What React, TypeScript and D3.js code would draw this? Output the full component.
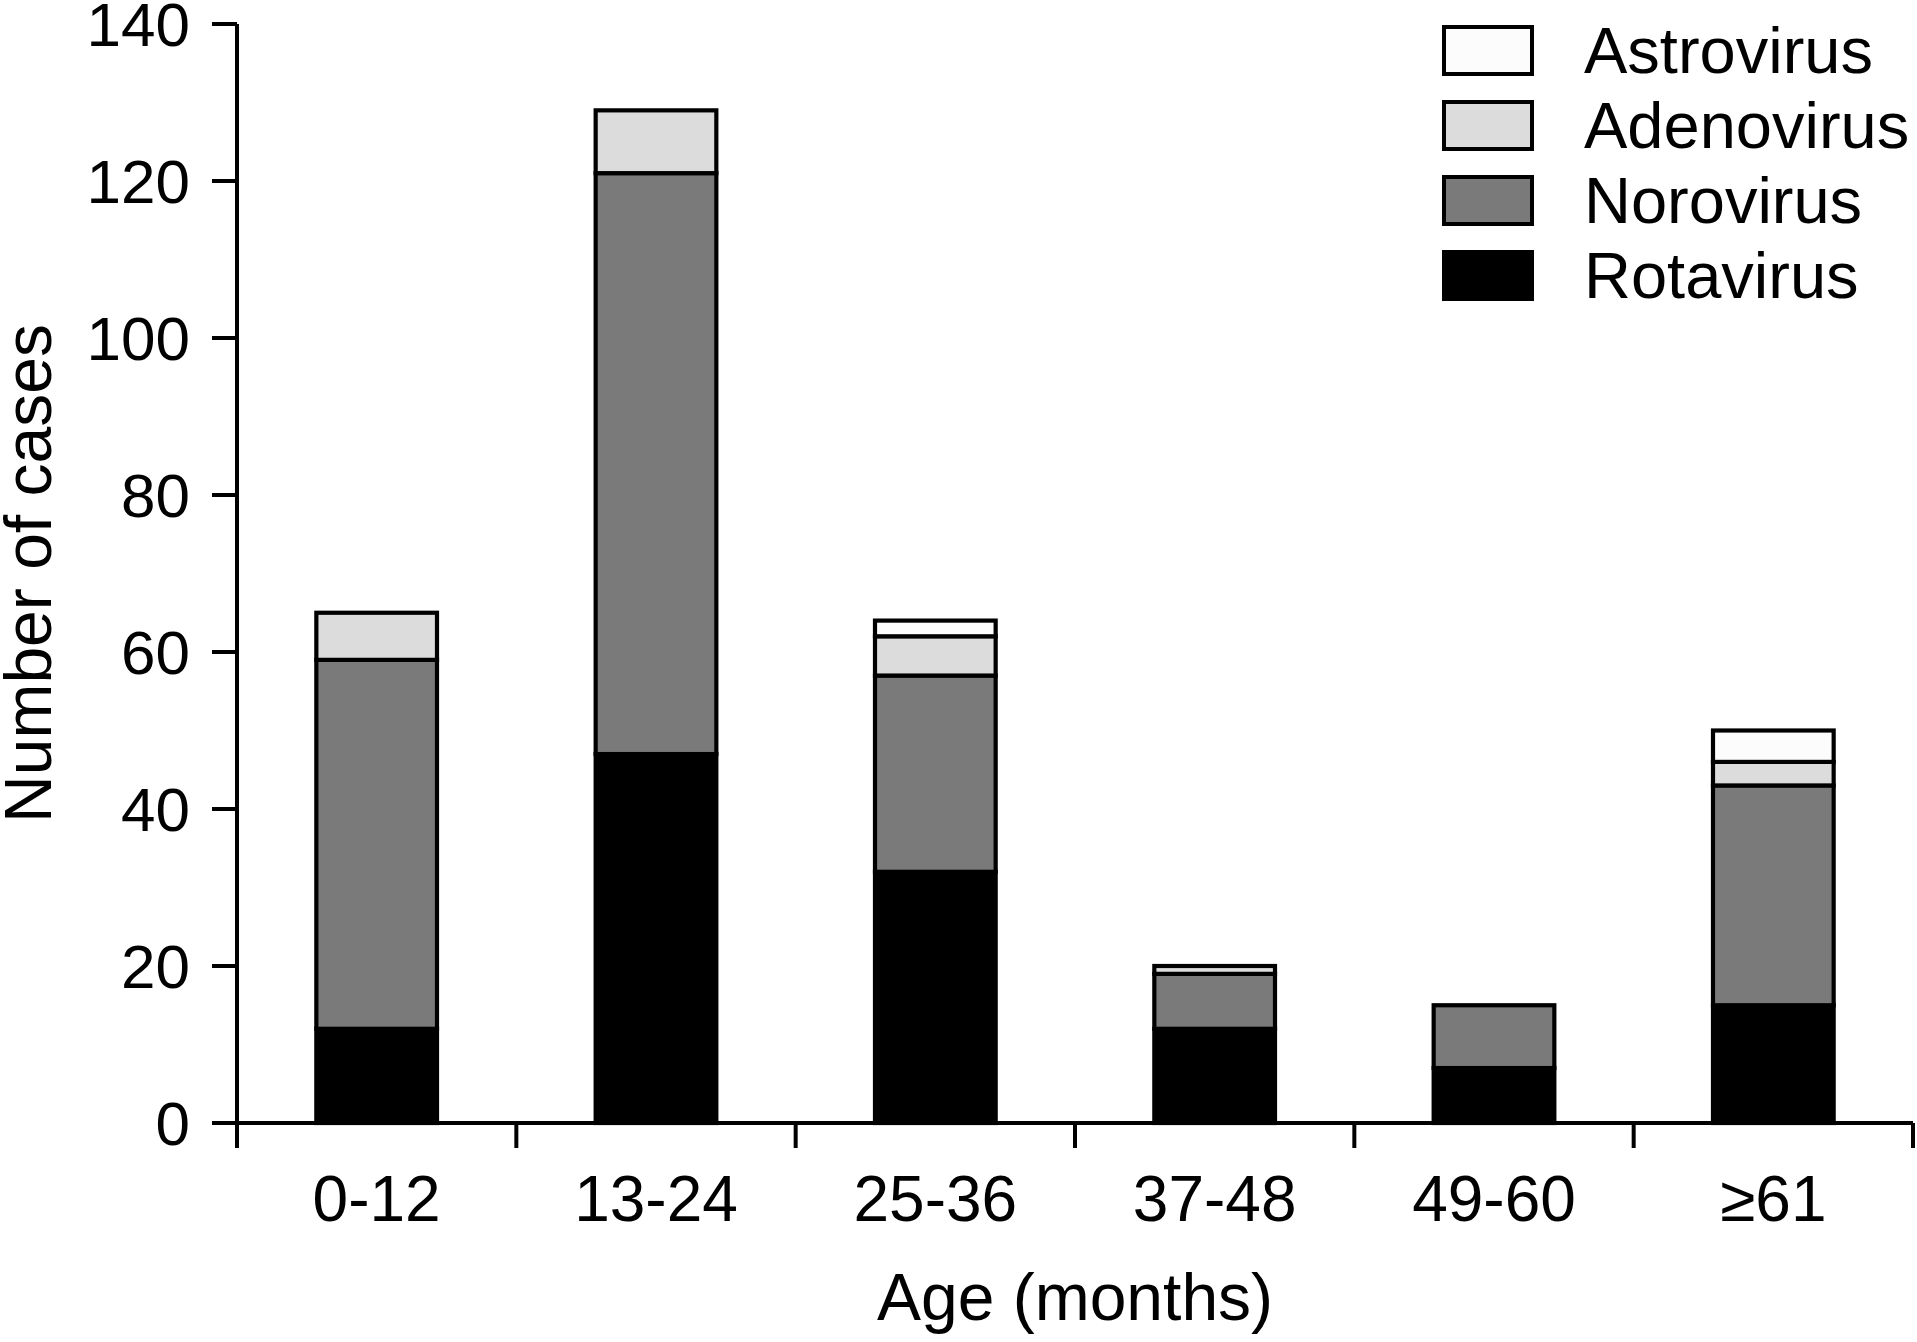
import React from "react";
import * as d3 from "d3";

const categories = ["0-12", "13-24", "25-36", "37-48", "49-60", "\u226561"];
const rotavirus = [12, 47, 32, 12, 7, 15];
const norovirus = [47, 74, 25, 7, 8, 28];
const adenovirus = [6, 8, 5, 1, 0, 3];
const astrovirus = [0, 0, 2, 0, 0, 4];
const seriesNames = ["Rotavirus", "Norovirus", "Adenovirus", "Astrovirus"];
const seriesColors = ["#000000", "#7a7a7a", "#dcdcdc", "#fcfcfc"];
const yTicks = [0, 20, 40, 60, 80, 100, 120, 140];

const W = 1917;
const H = 1342;
const FONT = "'Liberation Sans', Arial, Helvetica, sans-serif";

export default function App() {
  const left = 237;
  const right = 1913;
  const top = 24;
  const bottom = 1123;

  const x = d3
    .scaleBand<string>()
    .domain(categories)
    .range([left, right])
    .paddingInner(0.568)
    .paddingOuter(0.284);
  const y = d3.scaleLinear().domain([0, 140]).range([bottom, top]);

  const rows = categories.map((c, i) => ({
    cat: c,
    Rotavirus: rotavirus[i],
    Norovirus: norovirus[i],
    Adenovirus: adenovirus[i],
    Astrovirus: astrovirus[i],
  }));
  const stacked = d3.stack<any>().keys(seriesNames)(rows);

  const step = x.step();
  const boundaries = d3.range(categories.length + 1).map((k) => left + k * step);
  const tickLen = 25;
  const sw = 4.2;

  const legendItems = [...seriesNames].reverse();

  return (
    <svg
      width={W}
      height={H}
      style={{ position: "absolute", left: 0, top: 0, background: "#fff" }}
      fontFamily={FONT}
    >
      <rect x={0} y={0} width={W} height={H} fill="#fff" />
      {/* bars */}
      {stacked.map((layer, si) => (
        <g key={layer.key}>
          {layer.map((d, i) => {
            const h = d[1] - d[0];
            if (h <= 0) return null;
            return (
              <rect
                key={i}
                x={x(categories[i])!}
                width={x.bandwidth()}
                y={y(d[1])}
                height={y(d[0]) - y(d[1])}
                fill={seriesColors[si]}
                stroke="#000"
                strokeWidth={sw}
              />
            );
          })}
        </g>
      ))}
      {/* y axis */}
      <line x1={left} x2={left} y1={y(140)} y2={bottom + tickLen} stroke="#000" strokeWidth={4} />
      {yTicks.map((t) => (
        <g key={t}>
          <line x1={left - tickLen} x2={left} y1={y(t)} y2={y(t)} stroke="#000" strokeWidth={4} />
          <text
            x={190}
            y={y(t)}
            dy="0.36em"
            textAnchor="end"
            fontSize={62}
            fill="#000"
          >
            {t}
          </text>
        </g>
      ))}
      {/* x axis */}
      <line x1={left - tickLen} x2={right} y1={bottom} y2={bottom} stroke="#000" strokeWidth={4} />
      {boundaries.map((b, k) => (
        <line key={k} x1={b} x2={b} y1={bottom} y2={bottom + tickLen} stroke="#000" strokeWidth={4} />
      ))}
      {categories.map((c) => (
        <text
          key={c}
          x={x(c)! + x.bandwidth() / 2}
          y={1221}
          textAnchor="middle"
          fontSize={64}
          fill="#000"
        >
          {c}
        </text>
      ))}
      {/* axis titles */}
      <text x={(left + right) / 2} y={1320} textAnchor="middle" fontSize={66} fill="#000">
        Age (months)
      </text>
      <text
        transform={`translate(51, ${(top + bottom) / 2}) rotate(-90)`}
        textAnchor="middle"
        fontSize={66}
        fill="#000"
      >
        Number of cases
      </text>
      {/* legend */}
      {legendItems.map((name, i) => {
        const si = seriesNames.indexOf(name);
        const ty = 27 + i * 75;
        return (
          <g key={name}>
            <rect
              x={1444}
              y={ty}
              width={88}
              height={47}
              fill={seriesColors[si]}
              stroke="#000"
              strokeWidth={4}
            />
            <text x={1584} y={ty + 46} fontSize={65} fill="#000">
              {name}
            </text>
          </g>
        );
      })}
    </svg>
  );
}
